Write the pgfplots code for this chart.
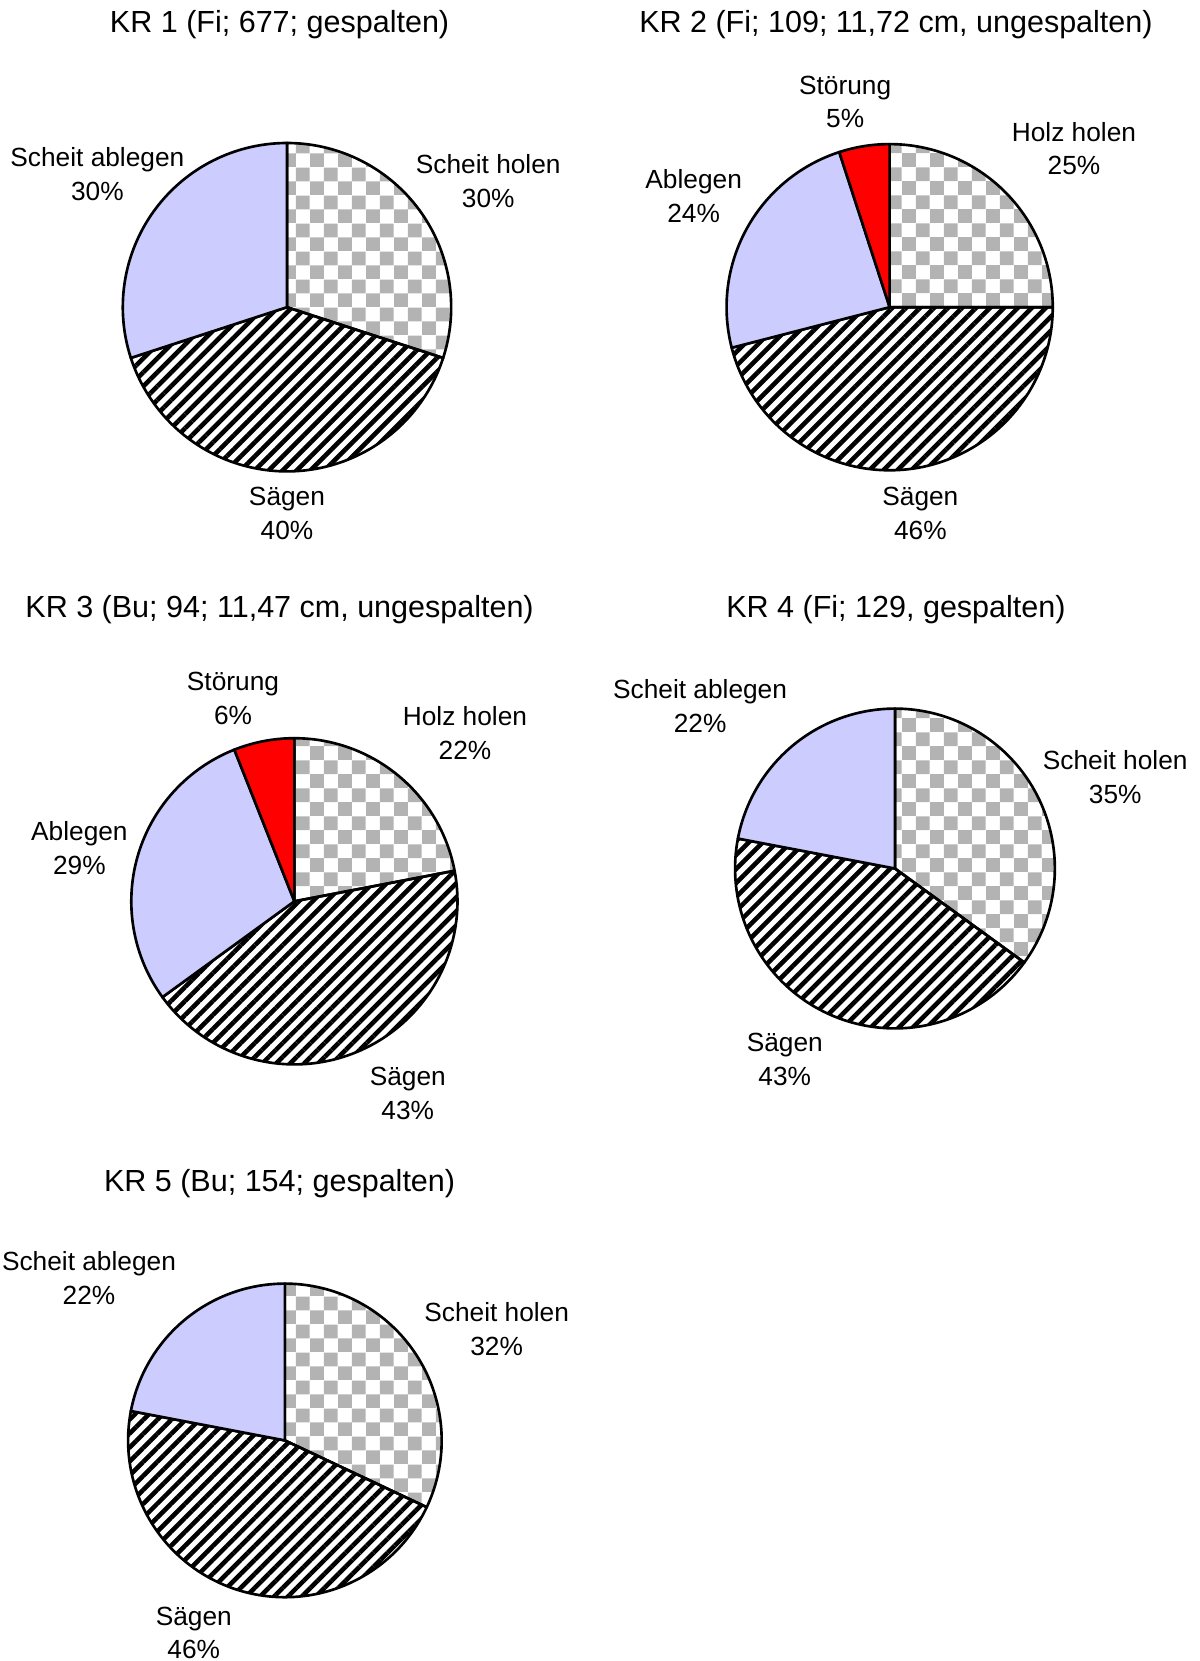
\documentclass[border=0pt]{standalone}
\usepackage{pgfplots}
\pgfplotsset{compat=1.18}
\usepackage{fontspec}
\setmainfont{Liberation Sans}
\usetikzlibrary{patterns,patterns.meta}
\pgfdeclarepatternformonly{mycheck}{\pgfqpoint{0pt}{0pt}}{\pgfqpoint{8pt}{8pt}}{\pgfqpoint{8pt}{8pt}}{%
  \pgfpathrectangle{\pgfqpoint{0pt}{0pt}}{\pgfqpoint{4pt}{4pt}}%
  \pgfpathrectangle{\pgfqpoint{4pt}{4pt}}{\pgfqpoint{4pt}{4pt}}%
  \pgfusepath{fill}}
\definecolor{lav}{RGB}{204,204,255}
\definecolor{chk}{RGB}{179,179,179}
\definecolor{stoer}{RGB}{255,0,0}
\tikzset{
  chkfill/.style={pattern=mycheck, pattern color=chk},
  strfill/.style={pattern={Lines[angle=45,distance=2.8pt,line width=1.3pt]}, pattern color=black},
  lavfill/.style={fill=lav},
  redfill/.style={fill=stoer},
}
% slice: cx, cy, r, start %, end %, style
\newcommand\slice[6]{%
  \addplot[#6, draw=black, line width=0.75pt, line join=round, samples=90,
    domain={90-3.6*(#5)}:{90-3.6*(#4)}]
    ({#1+#3*cos(x)},{#2-#3*sin(x)}) -- (axis cs:#1,#2) -- cycle;}
\newcommand\lab[3]{\node[anchor=base, inner sep=0pt, font=\fontsize{7.45pt}{9pt}\selectfont] at (axis cs:#1,{#2+9.4}) {#3};}
\newcommand\ttl[3]{\node[anchor=base, inner sep=0pt, font=\fontsize{8.65pt}{10pt}\selectfont] at (axis cs:#1,{#2+10.9}) {#3};}
\begin{document}
\begin{tikzpicture}
\begin{axis}[scale only axis, width=340.16pt, height=470.86pt,
  xmin=0, xmax=1200, ymin=0, ymax=1661, y dir=reverse,
  hide axis, clip=false]
\addplot[draw=none] coordinates {(0,0) (1200,1661)};
% KR 1
\slice{287.0}{307.2}{164.2}{0}{30}{chkfill}
\slice{287.0}{307.2}{164.2}{30}{70}{strfill}
\slice{287.0}{307.2}{164.2}{70}{100}{lavfill}
% KR 2
\slice{889.7}{307.2}{163.1}{0}{25}{chkfill}
\slice{889.7}{307.2}{163.1}{25}{71}{strfill}
\slice{889.7}{307.2}{163.1}{71}{95}{lavfill}
\slice{889.7}{307.2}{163.1}{95}{100}{redfill}
% KR 3
\slice{294.4}{901.3}{163.1}{0}{22}{chkfill}
\slice{294.4}{901.3}{163.1}{22}{65}{strfill}
\slice{294.4}{901.3}{163.1}{65}{94}{lavfill}
\slice{294.4}{901.3}{163.1}{94}{100}{redfill}
% KR 4
\slice{895.0}{868.5}{159.9}{0}{35}{chkfill}
\slice{895.0}{868.5}{159.9}{35}{78}{strfill}
\slice{895.0}{868.5}{159.9}{78}{100}{lavfill}
% KR 5
\slice{284.9}{1440.4}{156.8}{0}{32}{chkfill}
\slice{284.9}{1440.4}{156.8}{32}{78}{strfill}
\slice{284.9}{1440.4}{156.8}{78}{100}{lavfill}
% titles
\ttl{279.6}{21.2}{KR 1 (Fi; 677; gespalten)}
\ttl{896.0}{21.2}{KR 2 (Fi; 109; 11,72 cm, ungespalten)}
\ttl{279.6}{606.9}{KR 3 (Bu; 94; 11,47 cm, ungespalten)}
\ttl{896.0}{606.9}{KR 4 (Fi; 129, gespalten)}
\ttl{279.6}{1180.9}{KR 5 (Bu; 154; gespalten)}
% labels KR 1
\lab{97.4}{156.8}{Scheit ablegen}\lab{97.4}{190.6}{30\%}
\lab{488.3}{164.2}{Scheit holen}\lab{488.3}{198.1}{30\%}
\lab{287.0}{495.7}{Sägen}\lab{287.0}{529.6}{40\%}
% KR 2
\lab{845.2}{84.7}{Störung}\lab{845.2}{117.6}{5\%}
\lab{1074.0}{132.4}{Holz holen}\lab{1074.0}{165.2}{25\%}
\lab{693.7}{179.0}{Ablegen}\lab{693.7}{212.9}{24\%}
\lab{920.4}{495.7}{Sägen}\lab{920.4}{529.6}{46\%}
% KR 3
\lab{233.0}{681.0}{Störung}\lab{233.0}{714.9}{6\%}
\lab{465.0}{716.0}{Holz holen}\lab{465.0}{749.9}{22\%}
\lab{79.4}{831.4}{Ablegen}\lab{79.4}{865.3}{29\%}
\lab{407.8}{1076.1}{Sägen}\lab{407.8}{1110.0}{43\%}
% KR 4
\lab{700.1}{689.5}{Scheit ablegen}\lab{700.1}{723.4}{22\%}
\lab{1115.3}{760.5}{Scheit holen}\lab{1115.3}{794.4}{35\%}
\lab{784.8}{1042.2}{Sägen}\lab{784.8}{1076.1}{43\%}
% KR 5
\lab{89.0}{1261.4}{Scheit ablegen}\lab{89.0}{1295.3}{22\%}
\lab{496.7}{1312.2}{Scheit holen}\lab{496.7}{1346.2}{32\%}
\lab{193.8}{1616.3}{Sägen}\lab{193.8}{1649.1}{46\%}
\end{axis}
\end{tikzpicture}
\end{document}
